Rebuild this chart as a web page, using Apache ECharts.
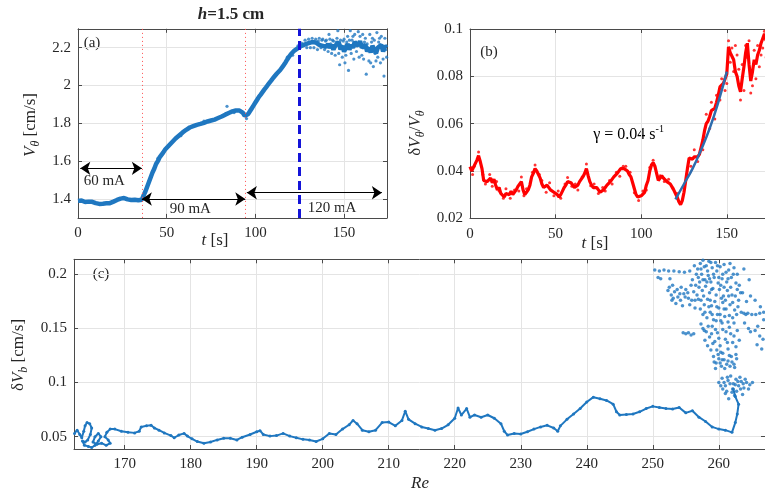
<!DOCTYPE html>
<html>
<head>
<meta charset="utf-8">
<title>h=1.5 cm</title>
<script src="https://cdn.jsdelivr.net/npm/echarts@6/dist/echarts.min.js"></script>
<style>
  html, body { margin: 0; padding: 0; background: #fff; }
  #chart { width: 765px; height: 498px; }
</style>
</head>
<body>
<div id="chart"></div>
<script>
// (a) azimuthal velocity, one sample per second from t = 0 s
const velStep = 1
const velocity = [
  1.39, 1.385, 1.392, 1.388, 1.384, 1.39, 1.386, 1.382, 1.385, 1.38, 1.378,
  1.376, 1.374, 1.372, 1.375, 1.373, 1.377, 1.38, 1.378, 1.383, 1.386,
  1.39, 1.395, 1.398, 1.402, 1.41, 1.405, 1.402, 1.398, 1.4, 1.395,
  1.392, 1.396, 1.39, 1.393, 1.398, 1.396, 1.42, 1.44, 1.465, 1.49,
  1.515, 1.54, 1.56, 1.585, 1.6, 1.62, 1.63, 1.645, 1.66, 1.67,
  1.68, 1.69, 1.7, 1.71, 1.72, 1.728, 1.736, 1.745, 1.752, 1.76,
  1.766, 1.772, 1.778, 1.78, 1.785, 1.788, 1.792, 1.795, 1.797, 1.8,
  1.803, 1.806, 1.81, 1.812, 1.815, 1.818, 1.82, 1.824, 1.828, 1.832,
  1.836, 1.84, 1.846, 1.85, 1.855, 1.86, 1.863, 1.866, 1.868, 1.87,
  1.868, 1.865, 1.855, 1.84, 1.838, 1.85, 1.865, 1.88, 1.895, 1.91,
  1.925, 1.94, 1.952, 1.965, 1.978, 1.99, 2.003, 2.015, 2.027, 2.04,
  2.05, 2.062, 2.072, 2.082, 2.092, 2.108, 2.122, 2.138, 2.152, 2.165,
  2.175, 2.185, 2.192, 2.198, 2.204, 2.21, 2.215, 2.218, 2.222, 2.224,
  2.226, 2.23, 2.222, 2.228, 2.22, 2.215, 2.225, 2.21, 2.22, 2.205,
  2.22, 2.2, 2.215, 2.19, 2.21, 2.2, 2.23, 2.19, 2.21, 2.18,
  2.2, 2.22, 2.19, 2.215, 2.2, 2.23, 2.24, 2.21, 2.235, 2.2,
  2.19, 2.215, 2.18, 2.2, 2.175, 2.21, 2.19, 2.17, 2.2, 2.19,
  2.215, 2.18, 2.21, 2.2
]
// scattered samples around the noisy part of (a): [t, V]
const velCloud = [
  [45, 1.615], [58, 1.735], [71, 1.812], [84, 1.89], [88, 1.857], [95, 1.825],
  [118, 2.15], [121, 2.16], [124, 2.21], [126, 2.225],
  [128, 2.24], [129, 2.2], [130, 2.245], [131, 2.2], [132, 2.25], [133, 2.2], [134, 2.245],
  [135, 2.19], [135.5, 2.235], [136, 2.25], [137, 2.2], [137.5, 2.24], [138, 2.245], [139, 2.19],
  [139.5, 2.235], [140, 2.24], [141, 2.18], [141.5, 2.27], [142, 2.245], [142.5, 2.22],
  [143, 2.17], [143.5, 2.24], [144, 2.235], [145, 2.16], [145.5, 2.23], [146, 2.25],
  [146.5, 2.29], [147, 2.17], [147.5, 2.11], [148, 2.24], [148.5, 2.21], [149, 2.15],
  [149.5, 2.235], [150, 2.245], [150.5, 2.12], [151, 2.16], [151.5, 2.23], [152, 2.26],
  [152.5, 2.08], [153, 2.24], [153.5, 2.29], [154, 2.17], [154.5, 2.24], [155, 2.26],
  [155.5, 2.14], [156, 2.27], [156.5, 2.21], [157, 2.18], [157.5, 2.21], [158, 2.285],
  [158.5, 2.15], [159, 2.26], [159.5, 2.22], [160, 2.16], [160.5, 2.27], [161, 2.14],
  [161.5, 2.23], [162, 2.25], [162.5, 2.06], [163, 2.22], [163.5, 2.2], [164, 2.13],
  [164.5, 2.27], [165, 2.12], [165.5, 2.23], [166, 2.25], [166.5, 2.1], [167, 2.24],
  [167.5, 2.17], [168, 2.13], [168.5, 2.28], [169, 2.15], [169.5, 2.23], [170, 2.25],
  [170.5, 2.12], [171, 2.26], [171.5, 2.2], [172, 2.14], [172.5, 2.05], [173, 2.25],
  [173.5, 2.19], [174, 2.15]
]
const switchTimes = [36.5, 94.5]      // current steps (red dotted)
const refTime = 125                   // blue dashed
// current spans: [t start, t end, V level]
const currentSpans = [[1.3, 36, 1.562], [36, 94.3, 1.4], [95.2, 171.3, 1.433]]
const currentNames = ['60 mA', '90 mA', '120 mA']
const currentLabelAt = [[14.8, 1.497], [63.3, 1.347], [143.2, 1.352]]

// (b) relative fluctuation, one sample per second from t = 0 s
const flucStep = 1
const fluctuation = [
  0.0418, 0.04, 0.0395, 0.043, 0.0445, 0.0465, 0.044, 0.041, 0.036, 0.0365,
  0.0355, 0.036, 0.037, 0.035, 0.0365, 0.034, 0.032, 0.033, 0.0305, 0.031,
  0.029, 0.0305, 0.031, 0.03, 0.0315, 0.03, 0.0305, 0.032, 0.0335, 0.034,
  0.0355, 0.032, 0.03, 0.031, 0.032, 0.034, 0.0375, 0.039, 0.041, 0.04,
  0.0397, 0.037, 0.0345, 0.033, 0.0325, 0.034, 0.0335, 0.032, 0.032, 0.031,
  0.031, 0.03, 0.029, 0.03, 0.0315, 0.033, 0.034, 0.0355, 0.036, 0.035,
  0.0345, 0.033, 0.0325, 0.034, 0.0355, 0.036, 0.0376, 0.039, 0.041, 0.038,
  0.0355, 0.034, 0.033, 0.0325, 0.033, 0.032, 0.031, 0.0315, 0.032, 0.033,
  0.034, 0.0345, 0.0355, 0.036, 0.0375, 0.038, 0.039, 0.0395, 0.041, 0.0405,
  0.041, 0.0402, 0.04, 0.0385, 0.0375, 0.035, 0.0325, 0.03, 0.029, 0.0295,
  0.0295, 0.03, 0.031, 0.034, 0.036, 0.04, 0.0425, 0.0435, 0.042, 0.039,
  0.036, 0.0365, 0.038, 0.037, 0.0365, 0.0355, 0.035, 0.0345, 0.034, 0.032,
  0.0305, 0.029, 0.027, 0.0258, 0.0275, 0.031, 0.036, 0.041, 0.0455, 0.046,
  0.045, 0.046, 0.0465, 0.046, 0.047, 0.05, 0.053, 0.057, 0.06, 0.061,
  0.063, 0.0655, 0.066, 0.0665, 0.069, 0.072, 0.0755, 0.076, 0.077, 0.079,
  0.081, 0.0925, 0.09, 0.0885, 0.087, 0.082, 0.08, 0.076, 0.0735, 0.079,
  0.084, 0.09, 0.094, 0.085, 0.078, 0.082, 0.087, 0.085, 0.089, 0.091,
  0.094, 0.096, 0.098, 0.095
]
const flucCloud = [
  [1.5, 0.0385], [2.5, 0.042], [5, 0.048], [7.5, 0.0385], [9, 0.0345], [11.5, 0.0385],
  [13, 0.0335], [15.5, 0.0355], [17, 0.0315], [19.5, 0.0285], [21, 0.0325], [23.5, 0.0285],
  [26, 0.032], [28.5, 0.0315], [30, 0.0375], [31.5, 0.0295], [33, 0.0325], [36.5, 0.0395],
  [38, 0.0425], [40.5, 0.0385], [42, 0.036], [44.5, 0.031], [46.5, 0.035], [49, 0.0295],
  [51.5, 0.0315], [53, 0.0285], [55.5, 0.0345], [57, 0.0372], [59.5, 0.0335], [61.5, 0.0345],
  [63, 0.032], [65.5, 0.0375], [68, 0.043], [70.5, 0.0338], [72.5, 0.0345], [75, 0.0305],
  [77.5, 0.033], [79, 0.0315], [81.5, 0.036], [83, 0.0345], [85.5, 0.0395], [87.5, 0.0378],
  [89.5, 0.042], [91, 0.042], [93.5, 0.0395], [96, 0.0308], [98.5, 0.0275], [101, 0.0315],
  [103, 0.032], [105, 0.0415], [107, 0.0445], [109.5, 0.0375], [111, 0.038], [113.5, 0.0355],
  [116, 0.0365], [118.5, 0.0328], [121, 0.0305], [126.5, 0.0385],
  [129, 0.042], [131, 0.049], [133, 0.044], [136, 0.049], [138, 0.064], [140, 0.058],
  [141, 0.069], [143, 0.062], [144, 0.072], [146, 0.07], [147, 0.079], [149, 0.074],
  [150, 0.077], [151, 0.095], [152, 0.086], [153, 0.092], [154, 0.082], [155, 0.093],
  [156, 0.089], [157, 0.083], [158, 0.07], [159, 0.085], [160, 0.074], [161, 0.093],
  [162, 0.088], [163, 0.095], [164, 0.073], [165, 0.076], [166, 0.091], [167, 0.079],
  [168, 0.093], [169, 0.084], [170, 0.089], [171, 0.092], [172, 0.099], [173, 0.088]
]
// exponential fit, gamma = 0.04 1/s
const fitTime = [120, 125, 130, 135, 140, 145, 150]
const fitValue = [0.028, 0.0345, 0.041, 0.049, 0.058, 0.069, 0.082]
const gammaLabelAt = [72, 0.0552]

// (c) fluctuation amplitude versus Re, trajectory order: [Re, dV]
const trail = [
  [162.4, 0.053], [162.8, 0.056], [163.2, 0.052], [163.5, 0.049], [163.8, 0.055], [164.0, 0.06],
  [164.3, 0.063], [164.7, 0.062], [165.0, 0.058], [164.8, 0.052], [164.4, 0.047], [164.0, 0.045],
  [163.6, 0.046], [163.9, 0.042], [164.5, 0.041], [165.0, 0.04], [165.5, 0.042], [166.0, 0.046],
  [166.4, 0.05], [166.0, 0.053], [165.5, 0.05], [165.2, 0.045], [165.8, 0.043], [166.5, 0.044],
  [167.2, 0.042], [167.8, 0.044], [167.5, 0.047], [167.0, 0.05], [167.3, 0.054], [167.8, 0.057],
  [168.5, 0.057], [169.5, 0.055], [170.5, 0.054], [171.5, 0.0535], [172.2, 0.055], [172.5, 0.059],
  [173.3, 0.06], [174, 0.0605], [174.5, 0.058], [175.2, 0.056], [176, 0.0535], [177, 0.051],
  [177.5, 0.049], [178.2, 0.0515], [179, 0.053], [179.5, 0.0505], [180.2, 0.048], [181, 0.0455],
  [182, 0.044], [183, 0.045], [184, 0.047], [185, 0.0485], [186, 0.0485], [187, 0.047],
  [187.8, 0.0495], [189, 0.052], [190, 0.0545], [190.5, 0.0555], [191, 0.052], [192, 0.0505],
  [193, 0.051], [194, 0.053], [195, 0.0505], [196, 0.049], [197, 0.0475], [198, 0.047],
  [199, 0.0455], [200, 0.048], [201, 0.053], [202, 0.052], [203, 0.057], [204, 0.061],
  [204.6, 0.065], [205.2, 0.062], [206, 0.056], [207, 0.0545], [208, 0.056], [209, 0.063],
  [210, 0.0635], [211, 0.06], [212, 0.065], [212.5, 0.0735], [213, 0.066], [214, 0.062],
  [215, 0.059], [216, 0.0575], [217, 0.056], [218, 0.0575], [219, 0.061], [220, 0.067],
  [220.5, 0.0765], [221, 0.07], [221.8, 0.076], [222.3, 0.068], [223, 0.07], [224, 0.068],
  [225, 0.07], [226, 0.067], [227, 0.062], [227.5, 0.055], [228, 0.0515], [229, 0.053],
  [230, 0.0525], [231, 0.0545], [232, 0.057], [233, 0.059], [234, 0.0605], [235, 0.058],
  [235.6, 0.055], [236, 0.06], [237, 0.066], [238, 0.071], [239, 0.076], [240, 0.082],
  [241, 0.0865], [242, 0.085], [243, 0.0835], [244, 0.08], [244.5, 0.073], [245, 0.07],
  [246, 0.0705], [247, 0.071], [248, 0.073], [249, 0.076], [250, 0.078], [251, 0.077],
  [252, 0.076], [253, 0.0755], [254, 0.077], [255, 0.072], [256, 0.074], [257, 0.068],
  [258, 0.064], [259, 0.059], [260, 0.057], [261, 0.056], [262, 0.054], [262.5, 0.063],
  [262.8, 0.071], [263, 0.08], [262.5, 0.087], [262.2, 0.094]
]
const cluster = [
  [250.3, 0.204], [251, 0.203], [251.7, 0.204], [252.4, 0.203], [253.2, 0.203], [254, 0.2025],
  [254.8, 0.202], [255.6, 0.203], [252.6, 0.196], [251.2, 0.196], [250.8, 0.197],
  [252.3, 0.185], [252.8, 0.181], [253.3, 0.184], [253.8, 0.179], [254.2, 0.176], [254.7, 0.182],
  [255, 0.186], [255.4, 0.178], [255.8, 0.19], [256.2, 0.184], [253.5, 0.173], [254.5, 0.171],
  [255.6, 0.172], [256.4, 0.176], [252.9, 0.176], [256, 0.195],
  [252.5, 0.188], [253, 0.19], [253.7, 0.186], [254.3, 0.188], [254.9, 0.179], [255.3, 0.183],
  [255.9, 0.176], [253.1, 0.178], [254.1, 0.182],
  [256.8, 0.205], [257.2, 0.21], [257.6, 0.213], [258.1, 0.208], [258.5, 0.212], [259, 0.206],
  [259.5, 0.211], [260.2, 0.207], [260.8, 0.209], [261.5, 0.204], [262.3, 0.206],
  [256.9, 0.197], [257.4, 0.2], [257.9, 0.195], [258.4, 0.199], [258.8, 0.193], [259.3, 0.197],
  [259.9, 0.192], [260.5, 0.196], [261.2, 0.193], [261.9, 0.197], [262.6, 0.192],
  [257, 0.188], [257.5, 0.185], [258, 0.189], [258.6, 0.183], [259.1, 0.187], [259.6, 0.181],
  [260.1, 0.186], [260.7, 0.18], [261.3, 0.185], [262, 0.181], [262.8, 0.186],
  [257.3, 0.176], [257.8, 0.172], [258.3, 0.177], [258.9, 0.171], [259.4, 0.175], [260, 0.169],
  [260.6, 0.174], [261.1, 0.168], [261.7, 0.172], [262.4, 0.167], [263, 0.176],
  [257.6, 0.163], [258.2, 0.16], [258.7, 0.165], [259.2, 0.158], [259.8, 0.163], [260.3, 0.157],
  [260.9, 0.161], [261.4, 0.156], [262.1, 0.16], [262.7, 0.163],
  [256.3, 0.208], [256.6, 0.2], [256.5, 0.19], [256.7, 0.181], [256.4, 0.169], [257.1, 0.193],
  [257.3, 0.205], [257.8, 0.207], [257.7, 0.18], [258.2, 0.193], [258.3, 0.203], [258.8, 0.211],
  [258.7, 0.176], [258.9, 0.186], [259.2, 0.2], [259.4, 0.214], [259.7, 0.203], [259.7, 0.17],
  [260, 0.197], [260.3, 0.19], [260.4, 0.178], [260.6, 0.2], [260.8, 0.188], [261, 0.176],
  [261.1, 0.202], [261.4, 0.196], [261.5, 0.18], [261.8, 0.188], [262.1, 0.174], [262.2, 0.2],
  [262.5, 0.18], [262.9, 0.17], [263.1, 0.19], [263.3, 0.183], [257.9, 0.165], [258.5, 0.17],
  [259, 0.163], [259.6, 0.157], [260.2, 0.163], [260.8, 0.168], [261.6, 0.162], [262.3, 0.155],
  [257.2, 0.168], [256.9, 0.177], [257.6, 0.195], [258.6, 0.196], [259.8, 0.208], [260.9, 0.214],
  [261.7, 0.21], [262.8, 0.2],
  [254.6, 0.146], [255, 0.145], [255.4, 0.146], [255.8, 0.144], [256.2, 0.145], [257.6, 0.15],
  [258.1, 0.147], [258.6, 0.142], [259, 0.152], [259.4, 0.138], [259.8, 0.146], [260.2, 0.134],
  [260.6, 0.149], [261, 0.14], [261.4, 0.131], [261.8, 0.145], [262.1, 0.137], [258.3, 0.134],
  [258.8, 0.13], [257.9, 0.139],
  [257.3, 0.154], [257.8, 0.148], [258.4, 0.152], [258.9, 0.145], [259.5, 0.149], [260, 0.141],
  [260.5, 0.155], [261.1, 0.147], [261.6, 0.151], [262.3, 0.143], [262.8, 0.148], [263.1, 0.139],
  [259.1, 0.136], [259.7, 0.13], [260.3, 0.128], [261.3, 0.137], [262.6, 0.133],
  [259.2, 0.124], [259.6, 0.118], [260, 0.122], [260.4, 0.115], [260.8, 0.121], [261.2, 0.117],
  [261.6, 0.125], [262, 0.119], [262.4, 0.114], [262.7, 0.122], [260.6, 0.127], [259.5, 0.113],
  [259.3, 0.119], [259.9, 0.126], [260.2, 0.118], [260.9, 0.113], [261.4, 0.12], [261.9, 0.124],
  [262.3, 0.117], [262.6, 0.126], [260.5, 0.121], [261.7, 0.115],
  [260, 0.1], [260.5, 0.104], [261, 0.097], [261.4, 0.102], [261.8, 0.106], [262.2, 0.099],
  [262.6, 0.103], [263, 0.097], [263.4, 0.101], [263.8, 0.095], [264.2, 0.1], [264.7, 0.098],
  [265.1, 0.1], [261.2, 0.092], [260.6, 0.094], [262, 0.091], [263.2, 0.105], [261.5, 0.085],
  [262.4, 0.088], [260.3, 0.097], [260.8, 0.1], [261.3, 0.105], [261.7, 0.099], [262.1, 0.094],
  [262.5, 0.098], [262.9, 0.101], [263.3, 0.094], [263.7, 0.099], [264, 0.103], [264.5, 0.094],
  [261, 0.09], [262.7, 0.092], [263.6, 0.089],
  [263.6, 0.183], [264.2, 0.175], [264.8, 0.18], [265.5, 0.176], [266.3, 0.17], [266.8, 0.158],
  [265.9, 0.152], [264.5, 0.15], [263.9, 0.155], [264.8, 0.147], [265.5, 0.148], [266.2, 0.143],
  [266.7, 0.14], [265.8, 0.135], [266.5, 0.131], [264.1, 0.163], [263.4, 0.165], [264.6, 0.195],
  [263.8, 0.205], [263.8, 0.164], [264.4, 0.164], [265, 0.163], [265.6, 0.163], [266.2, 0.164],
  [266.8, 0.165]
]

// tick labels
const ticksTa = [0, 50, 100, 150]
const ticksVa = [1.4, 1.6, 1.8, 2, 2.2]
const ticksTb = [0, 50, 100, 150]
const ticksVb = [0.02, 0.04, 0.06, 0.08, 0.1]
const ticksRe = [170, 180, 190, 200, 210, 220, 230, 240, 250, 260]
const ticksDv = [0.05, 0.1, 0.15, 0.2]

const BLUE = '#1f77c0'
const RED = '#ff0000'
const INK = '#262626'
const FONT = '"Liberation Serif", "DejaVu Serif", serif'

const chart = echarts.init(document.getElementById('chart'))

const axisPair = (dim, grid, min, max, ticks) => {
  const base = {
    type: 'value', gridIndex: grid, min: min, max: max,
    axisLine: { show: true, onZero: false, lineStyle: { color: '#4a4a4a', width: 1 } },
    axisTick: { show: true, inside: true, length: 4, customValues: ticks, lineStyle: { color: '#4a4a4a' } }
  }
  const main = Object.assign({}, base, {
    position: dim === 'x' ? 'bottom' : 'left',
    axisLabel: {
      customValues: ticks, color: INK, fontFamily: FONT, fontSize: 15,
      margin: dim === 'x' ? 8 : 7
    },
    splitLine: { show: true, lineStyle: { color: '#e4e4e4', width: 1 } }
  })
  const opp = Object.assign({}, base, {
    position: dim === 'x' ? 'top' : 'right',
    axisLabel: { show: false },
    splitLine: { show: false }
  })
  return [main, opp]
}

const rich = (size) => ({
  n: { fontFamily: FONT, fontSize: size, lineHeight: 22, color: INK, verticalAlign: 'middle' },
  i: { fontFamily: FONT, fontSize: size, fontStyle: 'italic', lineHeight: 22, color: INK, verticalAlign: 'middle' },
  sub: { fontFamily: FONT, fontSize: size - 5, fontStyle: 'italic', lineHeight: 12, color: INK, verticalAlign: 'bottom' },
  sup: { fontFamily: FONT, fontSize: size - 6, lineHeight: 11, color: INK, verticalAlign: 'top' },
  b: { fontFamily: FONT, fontSize: size, fontWeight: 'bold', lineHeight: 22, color: '#000', verticalAlign: 'middle' },
  bi: { fontFamily: FONT, fontSize: size, fontWeight: 'bold', fontStyle: 'italic', lineHeight: 22, color: '#000', verticalAlign: 'middle' }
})

const label = (id, text, x, y, rot, size) => ({
  type: 'text', id: id, x: x, y: y, rotation: rot || 0, silent: true,
  style: { text: text, rich: rich(size || 17), align: 'center', verticalAlign: 'middle', fill: INK }
})

const option = {
  animation: false,
  backgroundColor: '#fff',
  grid: [
    { left: 78, top: 28.8, width: 309, height: 189.1, outerBoundsMode: 'none' },
    { left: 470, top: 29, width: 299.6, height: 189.3, outerBoundsMode: 'none' },
    { left: 74, top: 259.3, width: 691, height: 189.7, outerBoundsMode: 'none' }
  ],
  xAxis: [
    ...axisPair('x', 0, 0, 174.2, ticksTa),
    ...axisPair('x', 1, 0, 175, ticksTb),
    ...axisPair('x', 2, 162.32, 267.0, ticksRe)
  ],
  yAxis: [
    ...axisPair('y', 0, 1.3, 2.3, ticksVa),
    ...axisPair('y', 1, 0.02, 0.1, ticksVb),
    ...axisPair('y', 2, 0.0386, 0.2139, ticksDv)
  ],
  series: [
    {
      type: 'line', xAxisIndex: 0, yAxisIndex: 0, showSymbol: false,
      lineStyle: { color: BLUE, width: 4.5 },
      data: velocity.map((v, i) => [i * velStep, v])
    },
    {
      type: 'scatter', xAxisIndex: 0, yAxisIndex: 0, symbolSize: 3.2,
      itemStyle: { color: BLUE },
      data: velCloud,
      markLine: {
        silent: true, symbol: 'none', animation: false,
        label: { show: false },
        data: [
          ...switchTimes.map(t => ({ xAxis: t, lineStyle: { color: '#ff5050', type: [1, 3], width: 1 } })),
          { xAxis: refTime, lineStyle: { color: '#1414d8', type: [9, 5], width: 3 } },
          ...currentSpans.map(s => [
            { coord: [s[0], s[2]], symbol: 'arrow', symbolSize: 10, lineStyle: { color: '#000', type: 'solid', width: 1 } },
            { coord: [s[1], s[2]], symbol: 'arrow', symbolSize: 10 }
          ])
        ]
      }
    },
    {
      type: 'line', xAxisIndex: 2, yAxisIndex: 2, showSymbol: false,
      lineStyle: { color: RED, width: 3.2 },
      data: fluctuation.map((v, i) => [i * flucStep, v])
    },
    {
      type: 'scatter', xAxisIndex: 2, yAxisIndex: 2, symbolSize: 3,
      itemStyle: { color: RED },
      data: flucCloud
    },
    {
      type: 'line', xAxisIndex: 2, yAxisIndex: 2, showSymbol: false, smooth: true,
      lineStyle: { color: '#2e6cad', width: 2.5 },
      data: fitTime.map((t, i) => [t, fitValue[i]])
    },
    {
      type: 'line', xAxisIndex: 4, yAxisIndex: 4, showSymbol: true, symbol: 'circle', symbolSize: 3,
      itemStyle: { color: BLUE }, lineStyle: { color: BLUE, width: 2 },
      data: trail
    },
    {
      type: 'scatter', xAxisIndex: 4, yAxisIndex: 4, symbolSize: 3.5,
      itemStyle: { color: BLUE },
      data: cluster
    }
  ],
  graphic: [
    label('title', '{bi|h}{b|=1.5 cm}', 231, 15, 0, 17),
    label('pa', '{n|(a)}', 92, 43, 0, 15),
    label('pb', '{n|(b)}', 489, 52, 0, 15),
    label('pc', '{n|(c)}', 101, 274, 0, 15),
    label('ya', '{i|V}{sub|θ}{n| [cm/s]}', 31, 125, Math.PI / 2, 17),
    label('xa', '{i|t}{n| [s]}', 215, 241, 0, 17),
    label('yb', '{n|δ}{i|V}{sub|θ}{n|/}{i|V}{sub|θ}', 416, 133, Math.PI / 2, 17),
    label('xb', '{i|t}{n| [s]}', 595, 244, 0, 17),
    label('yc', '{n|δ}{i|V}{sub|b}{n| [cm/s]}', 19, 355, Math.PI / 2, 17),
    label('xc', '{i|Re}', 420, 484, 0, 17)
  ]
}

chart.setOption(option)

// labels anchored to data positions
const extra = currentNames.map((name, k) => {
  const p = chart.convertToPixel({ gridIndex: 0 }, currentLabelAt[k])
  return label('cur' + k, '{n|' + name + '}', p[0], p[1], 0, 15)
})
const g = chart.convertToPixel({ gridIndex: 1 }, gammaLabelAt)
extra.push({
  type: 'text', id: 'gamma', x: g[0], y: g[1], silent: true,
  style: { text: '{n|γ = 0.04 s}{sup|-1}', rich: rich(16), align: 'left', verticalAlign: 'middle' }
})
chart.setOption({ graphic: extra })
</script>
</body>
</html>
